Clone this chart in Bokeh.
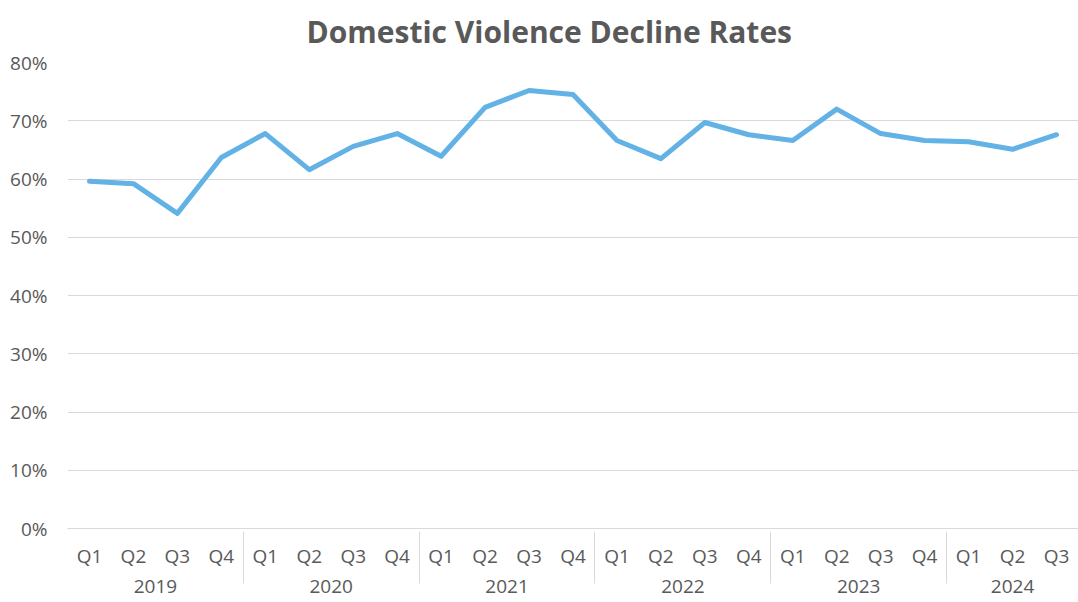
from bokeh.plotting import figure
from bokeh.models import FactorRange, Range1d, NumeralTickFormatter, FixedTicker
from bokeh.embed import file_html
from bokeh.resources import INLINE

years = ["2019", "2020", "2021", "2022", "2023", "2024"]
quarters = ["Q1", "Q2", "Q3", "Q4"]
periods = [(y, q) for y in years for q in quarters][:23]
rates = [0.596, 0.592, 0.541, 0.637, 0.678, 0.616, 0.656, 0.678,
         0.639, 0.723, 0.752, 0.745, 0.666, 0.635, 0.697, 0.676,
         0.666, 0.720, 0.678, 0.666, 0.664, 0.651, 0.676]
y_ticks = [0, 0.1, 0.2, 0.3, 0.4, 0.5, 0.6, 0.7, 0.8]
title_text = "Domestic Violence Decline Rates"

FONT = "Open Sans"
GREY = "#595959"

p = figure(
    width=1078, height=602,
    x_range=FactorRange(*periods, factor_padding=0, group_padding=0),
    y_range=Range1d(0, 0.8),
    output_backend="svg", toolbar_location=None,
    title=title_text,
    min_border_left=67, min_border_right=0, min_border_top=62, min_border_bottom=74,
)
p.title.align = "left"
p.title.offset = 239
p.title.standoff = 18
p.title.vertical_align = "top"
p.title.text_font = FONT
p.title.text_font_size = "30px"
p.title.text_font_style = "bold"
p.title.text_color = GREY

p.line(x=periods, y=rates, line_color="#62B2E6", line_width=5, line_join="round", line_cap="round")

p.outline_line_color = None
p.xgrid.grid_line_color = None
p.ygrid.grid_line_color = "#d9d9d9"
p.ygrid.grid_line_width = 1

p.yaxis.ticker = FixedTicker(ticks=y_ticks)
p.yaxis.formatter = NumeralTickFormatter(format="0%")
p.yaxis.axis_line_color = None
p.yaxis.major_tick_line_color = None
p.yaxis.minor_tick_line_color = None
p.yaxis.major_tick_out = 0
p.yaxis.major_label_standoff = 20
p.yaxis.major_label_text_font = FONT
p.yaxis.major_label_text_font_size = "19px"
p.yaxis.major_label_text_color = GREY

xa = p.xaxis[0]
xa.axis_line_color = "#d9d9d9"
xa.major_tick_line_color = None
xa.minor_tick_line_color = None
xa.major_label_standoff = 8
xa.major_label_text_line_height = 1.5
xa.major_label_text_font = FONT
xa.major_label_text_font_size = "19px"
xa.major_label_text_color = GREY
xa.group_text_font = FONT
xa.group_text_font_size = "19px"
xa.group_text_font_style = "normal"
xa.group_text_color = GREY
xa.separator_line_color = "#d9d9d9"
xa.separator_line_width = 1

open("out.html", "w").write(file_html(p, INLINE))
